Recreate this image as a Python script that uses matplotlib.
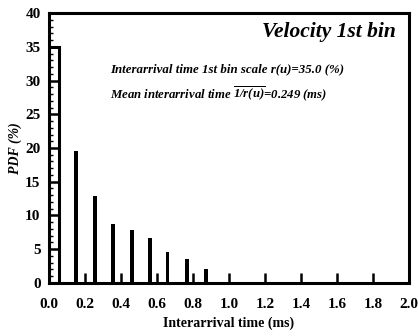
import matplotlib
matplotlib.use("Agg")
import matplotlib.pyplot as plt
from matplotlib.ticker import MultipleLocator

plt.rcParams['font.family'] = ['Liberation Serif', 'DejaVu Serif']
plt.rcParams['mathtext.fontset'] = 'custom'
plt.rcParams['mathtext.rm'] = 'Liberation Serif:bold:italic'
plt.rcParams['mathtext.it'] = 'Liberation Serif:bold:italic'
plt.rcParams['mathtext.bf'] = 'Liberation Serif:bold:italic'

# Data
first_bin_x = 0.0
first_bin_width = 0.055
first_bin_value = 35.0
bin_centers = [0.149, 0.256, 0.358, 0.461, 0.563, 0.659, 0.770, 0.871]
pdf_values = [19.5, 12.9, 8.7, 7.8, 6.7, 4.6, 3.6, 2.0]
xticks = [0.0, 0.2, 0.4, 0.6, 0.8, 1.0, 1.2, 1.4, 1.6, 1.8, 2.0]
xtick_labels = ['0.0', '0.2', '0.4', '0.6', '0.8', '1.0', '1.2', '1.4', '1.6', '1.8', '2.0']
yticks = [0, 5, 10, 15, 20, 25, 30, 35, 40]

fig = plt.figure(figsize=(4.18, 3.36), dpi=100)
ax = fig.add_axes([0.117, 0.158, 0.861, 0.803])

ax.bar([first_bin_x], [first_bin_value], width=first_bin_width, align='edge',
       facecolor='white', edgecolor='black', linewidth=2.2, zorder=1)
ax.bar(bin_centers, pdf_values, width=0.022, color='black', zorder=1)

ax.set_xlim(0, 2.0)
ax.set_ylim(0, 40)
ax.set_xticks(xticks)
ax.set_xticklabels(xtick_labels)
ax.set_yticks(yticks)
ax.yaxis.set_minor_locator(MultipleLocator(1))

for s in ax.spines.values():
    s.set_linewidth(2.2)

ax.tick_params(axis='x', which='major', direction='in', length=7, width=1.8,
               top=False, labelsize=11, pad=11)
ax.tick_params(axis='y', which='major', direction='in', length=7, width=1.8,
               right=False, labelsize=11, pad=6)
ax.tick_params(axis='y', which='minor', direction='in', length=3, width=1.0,
               right=False)
for lab in ax.get_xticklabels() + ax.get_yticklabels():
    lab.set_fontweight('bold')

ax.set_xlabel('Interarrival time (ms)', fontsize=10, fontweight='bold', labelpad=4)
ax.set_ylabel('PDF (%)', fontsize=10, fontweight='bold', style='italic', labelpad=2)

ax.text(0.963, 0.93, 'Velocity 1st bin', transform=ax.transAxes, ha='right', va='center',
        fontsize=15.5, fontweight='bold', style='italic')
ax.text(0.17, 0.79, 'Interarrival time 1st bin scale r(u)=35.0 (%)', transform=ax.transAxes,
        ha='left', va='center', fontsize=9.3, fontweight='bold', style='italic')
ax.text(0.17, 0.70, r'Mean interarrival time $\overline{1/r(u)}$=0.249 (ms)', transform=ax.transAxes,
        ha='left', va='center', fontsize=9.2, fontweight='bold', style='italic')

fig.savefig('out.png', dpi=100)
